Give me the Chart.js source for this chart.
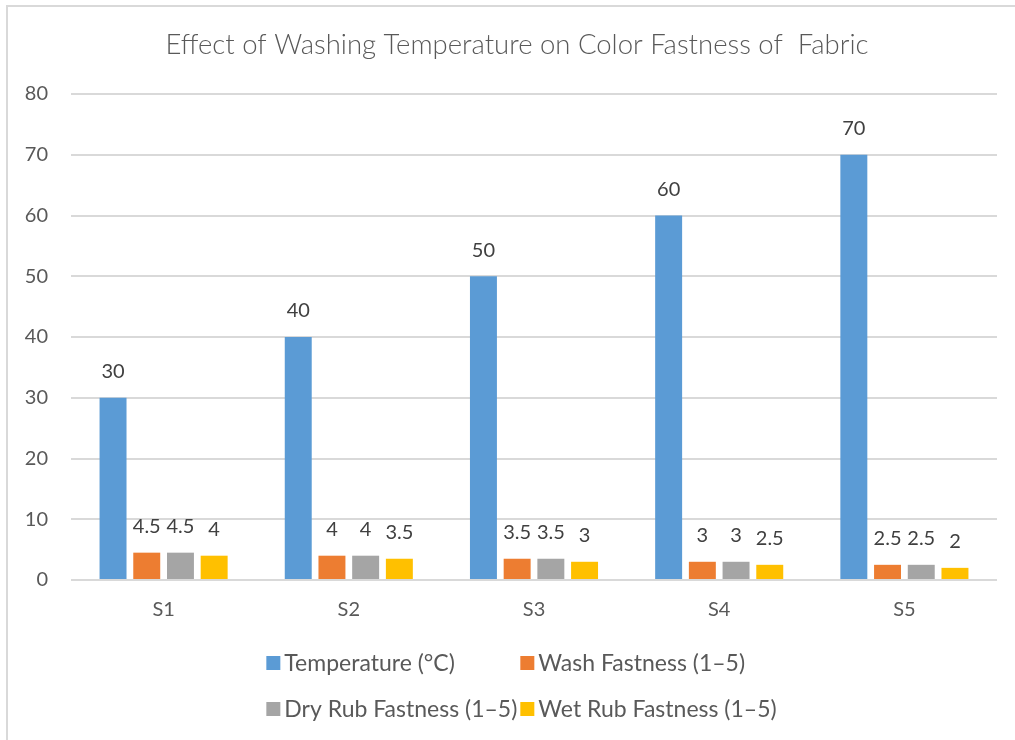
<!DOCTYPE html>
<html>
<head>
<meta charset="utf-8">
<script src="https://cdn.jsdelivr.net/npm/chart.js@4.4.1/dist/chart.umd.min.js"></script>
<style>
  html, body { margin: 0; padding: 0; background: #ffffff; }
  #wrap { position: absolute; left: 0; top: 0; width: 1015px; height: 740px; }
</style>
</head>
<body>
<div id="wrap"><canvas id="chart" width="1015" height="740"></canvas></div>
<script>
// Samples and their measured values
const categories = ['S1', 'S2', 'S3', 'S4', 'S5'];
const temperature = [30, 40, 50, 60, 70];
const washFastness = [4.5, 4, 3.5, 3, 2.5];
const dryRubFastness = [4.5, 4, 3.5, 3, 2.5];
const wetRubFastness = [4, 3.5, 3, 2.5, 2];
const seriesNames = ['Temperature (°C)', 'Wash Fastness (1–5)', 'Dry Rub Fastness (1–5)', 'Wet Rub Fastness (1–5)'];
const seriesColors = ['#5B9BD5', '#ED7D31', '#A5A5A5', '#FFC000'];
const yTickValues = [0, 10, 20, 30, 40, 50, 60, 70, 80];
const chartTitle = 'Effect of Washing Temperature on Color Fastness of  Fabric';

const FONT = "Lato, 'Open Sans', 'Noto Sans', sans-serif";
const TEXT = '#595959';
const GRID = '#D9D9D9';

// White page, thin frame on the left and top edges, and the heading
const framePlugin = {
  id: 'frame',
  beforeDraw(chart) {
    const ctx = chart.ctx;
    ctx.save();
    ctx.fillStyle = '#ffffff';
    ctx.fillRect(0, 0, chart.width, chart.height);
    ctx.fillStyle = GRID;
    ctx.fillRect(6, 5, 2, chart.height - 5);
    ctx.fillRect(6, 5, chart.width - 6, 2);
    ctx.font = '300 27.5px ' + FONT;
    ctx.fillStyle = TEXT;
    ctx.textAlign = 'center';
    ctx.textBaseline = 'middle';
    ctx.fillText(chartTitle, 517, 45);
    ctx.restore();
  }
};

// Value labels above every bar
const valueLabels = {
  id: 'valueLabels',
  afterDatasetsDraw(chart) {
    const ctx = chart.ctx;
    ctx.save();
    ctx.font = '20px ' + FONT;
    ctx.fillStyle = '#404040';
    ctx.textAlign = 'center';
    ctx.textBaseline = 'middle';
    chart.data.datasets.forEach((ds, di) => {
      const meta = chart.getDatasetMeta(di);
      meta.data.forEach((bar, i) => {
        ctx.fillText(String(ds.data[i]), bar.x, bar.y - 26);
      });
    });
    ctx.restore();
  }
};

// Two-column legend below the axis
const gridLegend = {
  id: 'gridLegend',
  afterDraw(chart) {
    const ctx = chart.ctx;
    const ds = chart.data.datasets;
    ctx.save();
    ctx.font = '23px ' + FONT;
    ctx.textBaseline = 'middle';
    ctx.textAlign = 'left';
    const box = 14, gapText = 4, colGap = 3;
    const w = ds.map(d => ctx.measureText(d.label).width);
    const col1 = box + gapText + Math.max(w[0], w[2]) + colGap;
    const col2 = box + gapText + Math.max(w[1], w[3]);
    const left = (chart.width - (col1 + col2)) / 2 + 14;
    const rows = [663, 709];
    ds.forEach((d, i) => {
      const x = left + (i % 2) * col1;
      const y = rows[Math.floor(i / 2)];
      ctx.fillStyle = d.backgroundColor;
      ctx.fillRect(x, y - box / 2, box, box);
      ctx.fillStyle = TEXT;
      ctx.fillText(d.label, x + box + gapText, y + 1);
    });
    ctx.restore();
  }
};

const seriesValues = [temperature, washFastness, dryRubFastness, wetRubFastness];

new Chart(document.getElementById('chart'), {
  type: 'bar',
  data: {
    labels: categories,
    datasets: seriesValues.map((vals, i) => ({
      label: seriesNames[i],
      data: vals,
      backgroundColor: seriesColors[i],
      borderWidth: 0,
      categoryPercentage: 0.728,
      barPercentage: 0.8
    }))
  },
  options: {
    responsive: false,
    animation: false,
    devicePixelRatio: 1,
    layout: { padding: { left: 0, right: 18, top: 94, bottom: 100 } },
    plugins: {
      legend: { display: false },
      tooltip: { enabled: false },
      title: { display: false }
    },
    scales: {
      x: {
        grid: { display: false, drawTicks: false },
        border: { display: false },
        ticks: { color: TEXT, font: { family: FONT, size: 20 }, padding: 18 }
      },
      y: {
        min: 0,
        max: 80,
        afterBuildTicks(scale) { scale.ticks = yTickValues.map(v => ({ value: v })); },
        afterFit(scale) { scale.width = 71; },
        grid: { color: GRID, lineWidth: 2, drawTicks: false },
        border: { display: false },
        ticks: { color: TEXT, font: { family: FONT, size: 20 }, padding: 23 }
      }
    }
  },
  plugins: [framePlugin, valueLabels, gridLegend]
});
</script>
</body>
</html>
